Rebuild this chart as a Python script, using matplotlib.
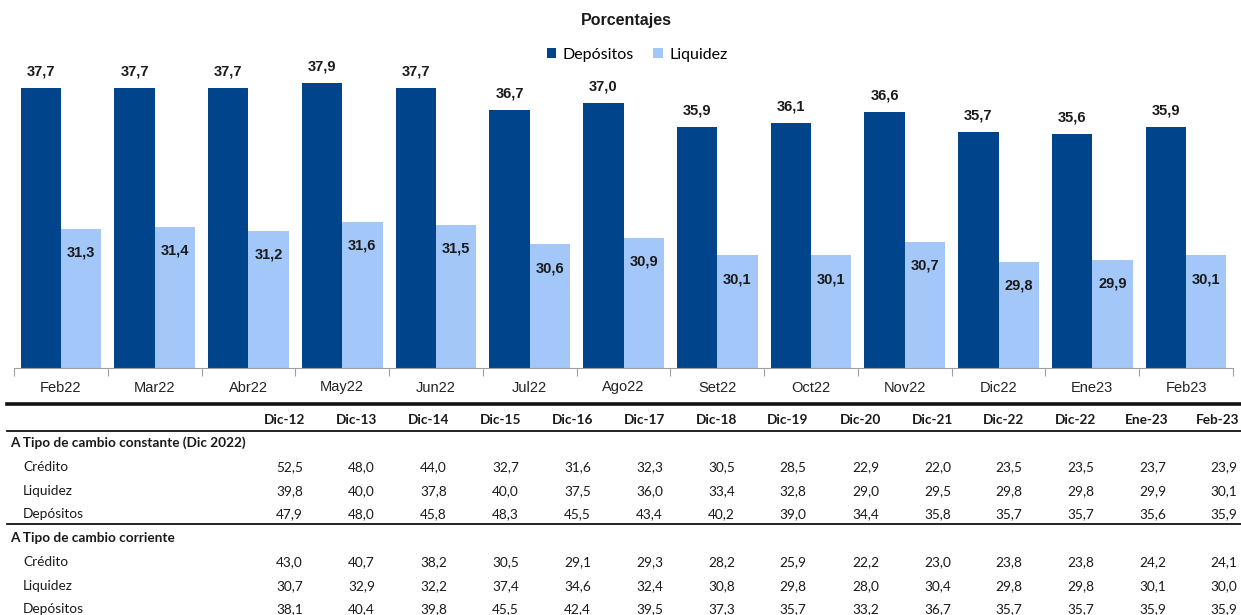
import matplotlib
matplotlib.use("Agg")
import matplotlib.pyplot as plt
from matplotlib import font_manager as fm
from matplotlib.lines import Line2D
import numpy as np

# ---------------- data ----------------
months = ["Feb22", "Mar22", "Abr22", "May22", "Jun22", "Jul22", "Ago22",
          "Set22", "Oct22", "Nov22", "Dic22", "Ene23", "Feb23"]
depositos = [37.7, 37.7, 37.7, 37.9, 37.7, 36.7, 37.0, 35.9, 36.1, 36.6, 35.7, 35.6, 35.9]
liquidez = [31.3, 31.4, 31.2, 31.6, 31.5, 30.6, 30.9, 30.1, 30.1, 30.7, 29.8, 29.9, 30.1]

table_cols = ["Dic-12", "Dic-13", "Dic-14", "Dic-15", "Dic-16", "Dic-17", "Dic-18",
              "Dic-19", "Dic-20", "Dic-21", "Dic-22", "Dic-22", "Ene-23", "Feb-23"]
sec1_title = "A Tipo de cambio constante (Dic 2022)"
sec2_title = "A Tipo de cambio corriente"
row_names = ["Crédito", "Liquidez", "Depósitos"]
const_credito = [52.5, 48.0, 44.0, 32.7, 31.6, 32.3, 30.5, 28.5, 22.9, 22.0, 23.5, 23.5, 23.7, 23.9]
const_liquidez = [39.8, 40.0, 37.8, 40.0, 37.5, 36.0, 33.4, 32.8, 29.0, 29.5, 29.8, 29.8, 29.9, 30.1]
const_depositos = [47.9, 48.0, 45.8, 48.3, 45.5, 43.4, 40.2, 39.0, 34.4, 35.8, 35.7, 35.7, 35.6, 35.9]
corr_credito = [43.0, 40.7, 38.2, 30.5, 29.1, 29.3, 28.2, 25.9, 22.2, 23.0, 23.8, 23.8, 24.2, 24.1]
corr_liquidez = [30.7, 32.9, 32.2, 37.4, 34.6, 32.4, 30.8, 29.8, 28.0, 30.4, 29.8, 29.8, 30.1, 30.0]
corr_depositos = [38.1, 40.4, 39.8, 45.5, 42.4, 39.5, 37.3, 35.7, 33.2, 36.7, 35.7, 35.7, 35.9, 35.9]

# ---------------- fonts ----------------
avail = {f.name for f in fm.fontManager.ttflist}
narrow = "Liberation Sans Narrow" if "Liberation Sans Narrow" in avail else "Liberation Sans"
tfont = "Lato" if "Lato" in avail else "DejaVu Sans"

DARK = "#00458C"
LIGHT = "#A2C7F8"

W, H = 1241, 615
fig = plt.figure(figsize=(W / 100, H / 100), dpi=100)

def fx(px):
    return px / W

def fy(py):
    return 1 - py / H

# ---------------- bar chart ----------------
ax_l, ax_r, ax_t, ax_b = 14, 1233, 37, 368
ax = fig.add_axes([fx(ax_l), fy(ax_b), fx(ax_r - ax_l), (ax_b - ax_t) / H])
x = np.arange(len(months))
bw = 0.43
b1 = ax.bar(x - bw / 2, depositos, bw, color=DARK, label="Depósitos")
b2 = ax.bar(x + bw / 2, liquidez, bw, color=LIGHT, label="Liquidez")
ax.set_ylim(25, 40)
ax.set_xlim(-0.5, len(months) - 0.5)

for rect, v in zip(b1, depositos):
    ax.annotate(f"{v:.1f}".replace(".", ","), (rect.get_x() + rect.get_width() / 2, v),
                xytext=(0, 7), textcoords="offset points", ha="center", va="bottom",
                fontsize=10.5, fontweight="bold", family=narrow, color="#1a1a1a")
for rect, v in zip(b2, liquidez):
    ax.annotate(f"{v:.1f}".replace(".", ","), (rect.get_x() + rect.get_width() / 2, v),
                xytext=(0, -17), textcoords="offset points", ha="center", va="center",
                fontsize=10.5, fontweight="bold", family=narrow, color="#1a1a1a")

for s in ["top", "right", "left"]:
    ax.spines[s].set_visible(False)
ax.spines["bottom"].set_color("#a0a0a0")
ax.set_yticks([])
ax.set_xticks(np.arange(-0.5, len(months), 1.0))
ax.set_xticklabels([])
ax.tick_params(axis="x", which="major", length=6, color="#a0a0a0", direction="out")
ax.set_xticks(x, minor=True)
ax.set_xticklabels(months, minor=True, fontsize=10.5, family="Liberation Sans", color="#222222")
ax.tick_params(axis="x", which="minor", length=0, pad=9)

fig.text(fx(626), fy(21), "Porcentajes", ha="center", va="center",
         fontsize=11.5, fontweight="bold", family=narrow, color="#1a1a1a")
leg = fig.legend(handles=[b1, b2], labels=["Depósitos", "Liquidez"], loc="center",
                 bbox_to_anchor=(fx(637), fy(55)), ncol=2, frameon=False,
                 handlelength=0.6, handleheight=0.6, handletextpad=0.4,
                 columnspacing=1.2, prop={"family": tfont, "size": 11.5})

# ---------------- table ----------------
col_right = [305, 377, 449, 521, 593, 665, 737, 808, 881, 953, 1024, 1096, 1168, 1239]
line_kw = dict(color="#111111", transform=fig.transFigure)
fig.add_artist(Line2D([fx(7), fx(1241)], [fy(404), fy(404)], lw=2.6, **line_kw))
fig.add_artist(Line2D([fx(7), fx(1241)], [fy(431), fy(431)], lw=1.3, **line_kw))
fig.add_artist(Line2D([fx(7), fx(1241)], [fy(523.5), fy(523.5)], lw=1.3, **line_kw))

tsize = 9.8
for xr, c in zip(col_right, table_cols):
    fig.text(fx(xr), fy(420), c, ha="right", va="center", fontsize=tsize,
             fontweight="bold", family=tfont, color="#1a1a1a")

def section(title, ytitle, rows_y, series):
    fig.text(fx(10), fy(ytitle), title, ha="left", va="center", fontsize=tsize,
             fontweight="bold", family=tfont, color="#1a1a1a")
    for name, yy, vals in zip(row_names, rows_y, series):
        fig.text(fx(23), fy(yy), name, ha="left", va="center", fontsize=tsize,
                 family=tfont, color="#1a1a1a")
        for xr, v in zip(col_right, vals):
            fig.text(fx(xr - 2), fy(yy), f"{v:.1f}".replace(".", ","), ha="right",
                     va="center", fontsize=tsize, family=tfont, color="#1a1a1a")

section(sec1_title, 443, [467, 491, 514], [const_credito, const_liquidez, const_depositos])
section(sec2_title, 538, [562, 586, 609], [corr_credito, corr_liquidez, corr_depositos])

fig.savefig("out.png", dpi=100)
